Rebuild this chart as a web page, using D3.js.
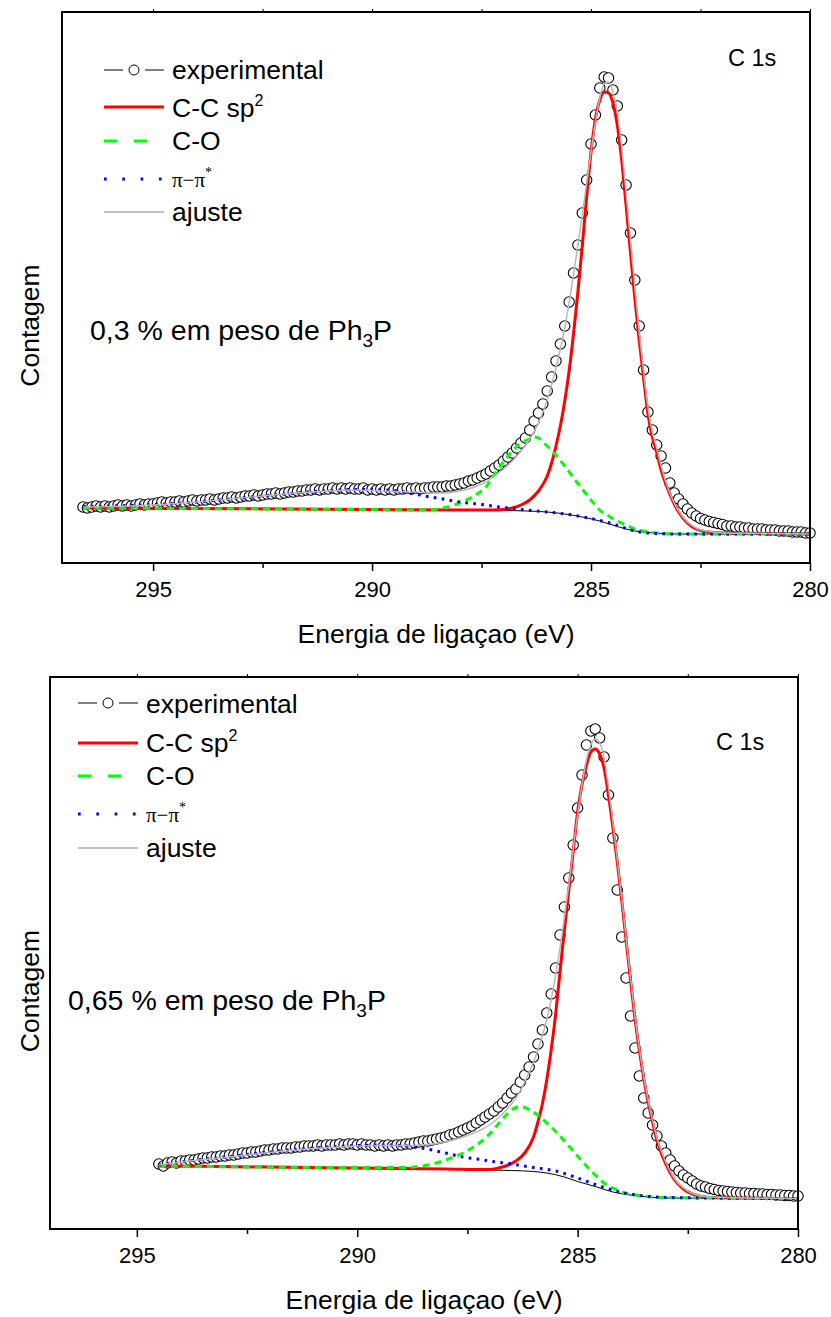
<!DOCTYPE html>
<html>
<head>
<meta charset="utf-8">
<script src="https://cdn.jsdelivr.net/npm/d3@7/dist/d3.min.js"></script>
<style>
  body { margin: 0; background: #fff; }
  text { font-family: "Liberation Sans", Arial, sans-serif; fill: #000; }
</style>
</head>
<body>
<svg id="chart" width="831" height="1317"></svg>
<script>
// ---- data (binding energy eV, counts a.u.) ----
var majorTicks = [295, 290, 285, 280];
var minorTicks = [292.5, 287.5, 282.5];
var legendLabels = ["experimental", "C-C sp", "C-O", "\u03c0\u2212\u03c0", "ajuste"];
var sampleLabels = ["0,3 % em peso de Ph", "0,65 % em peso de Ph"];
var xTitle = "Energia de liga\u00e7ao (eV)";
var yTitle = "Contagem";
var peakLabel = "C 1s";

// 0,3 % sample
var expTop = [
[296.6,560],[296.5,550],[296.4,560],[296.3,570],[296.2,560],[296.1,570],[296.0,560],[295.9,570],[295.8,580],[295.7,570],
[295.6,580],[295.5,570],[295.4,580],[295.3,590],[295.2,580],[295.1,590],[295.0,590],[294.9,600],[294.8,610],[294.7,600],
[294.6,610],[294.5,610],[294.4,620],[294.3,610],[294.2,620],[294.1,630],[294.0,620],[293.9,630],[293.8,630],[293.7,640],
[293.6,630],[293.5,640],[293.4,650],[293.3,650],[293.2,660],[293.1,650],[293.0,660],[292.9,670],[292.8,670],[292.7,680],
[292.6,670],[292.5,680],[292.4,690],[292.3,690],[292.2,700],[292.1,690],[292.0,700],[291.9,710],[291.8,710],[291.7,720],
[291.6,720],[291.5,730],[291.4,730],[291.3,740],[291.2,730],[291.1,740],[291.0,740],[290.9,750],[290.8,740],[290.7,750],
[290.6,740],[290.5,750],[290.4,740],[290.3,740],[290.2,750],[290.1,730],[290.0,740],[289.9,730],[289.8,740],[289.7,730],
[289.6,740],[289.5,730],[289.4,740],[289.3,740],[289.2,750],[289.1,740],[289.0,750],[288.9,740],[288.8,750],[288.7,750],
[288.6,760],[288.5,760],[288.4,760],[288.3,770],[288.2,770],[288.1,780],[288.0,790],[287.9,800],[287.8,820],[287.7,830],
[287.6,850],[287.5,870],[287.4,890],[287.3,920],[287.2,950],[287.1,980],[287.0,1020],[286.9,1060],[286.8,1100],[286.7,1150],
[286.6,1200],[286.5,1250],[286.4,1330],[286.3,1420],[286.2,1500],[286.1,1590],[286.0,1720],[285.9,1860],[285.8,2020],[285.7,2190],
[285.6,2370],[285.5,2610],[285.4,2900],[285.3,3180],[285.2,3500],[285.1,3830],[285.0,4190],[284.9,4480],[284.8,4750],[284.7,4860],
[284.6,4850],[284.5,4730],[284.4,4570],[284.3,4230],[284.2,3780],[284.1,3300],[284.0,2830],[283.9,2370],[283.8,1930],[283.7,1510],
[283.6,1330],[283.5,1180],[283.4,1070],[283.3,950],[283.2,800],[283.1,700],[283.0,640],[282.9,590],[282.8,540],[282.7,500],
[282.6,470],[282.5,445],[282.4,430],[282.3,415],[282.2,405],[282.1,395],[282.0,385],[281.9,370],[281.8,370],[281.7,360],
[281.6,360],[281.5,350],[281.4,350],[281.3,340],[281.2,340],[281.1,340],[281.0,330],[280.9,330],[280.8,330],[280.7,320],
[280.6,320],[280.5,320],[280.4,310],[280.3,310],[280.2,310],[280.1,300],[280.0,300]
];
var baseTop = [[296.6,550],[294,545],[291,540],[289,530],[287,525],[286,510],[285.6,490],[285.2,460],[284.8,420],
  [284.4,365],[284.0,320],[283.7,305],[283.4,295],[283.0,290],[280.0,290]];
var ccTop = [[296.6,550],[292,540],[290,535],[288,530],[287.2,530],[287.0,535],[286.8,550],[286.6,580],[286.4,630],
  [286.2,720],[286.0,870],[285.9,1000],[285.8,1170],[285.7,1370],[285.6,1620],[285.5,1920],[285.4,2290],[285.3,2710],
  [285.2,3170],[285.1,3660],[285.0,4110],[284.9,4440],[284.8,4630],[284.7,4710],[284.6,4700],[284.5,4600],[284.4,4380],
  [284.3,4030],[284.2,3580],[284.1,3110],[284.0,2650],[283.9,2230],[283.8,1850],[283.7,1490],[283.6,1260],[283.5,1110],
  [283.4,930],[283.3,800],[283.2,690],[283.1,590],[283.0,510],[282.8,400],[282.6,340],[282.3,310],[282.0,300],
  [281.0,295],[280.0,290]];
var coTop = [[296.6,550],[292,540],[290,535],[289,530],[288.6,535],[288.4,550],[288.2,570],[288.0,600],[287.8,640],
  [287.6,690],[287.4,760],[287.2,890],[287.0,1010],[286.8,1120],[286.6,1200],[286.4,1240],[286.3,1260],[286.2,1250],
  [286.0,1170],[285.8,1080],[285.6,970],[285.4,850],[285.2,740],[285.0,630],[284.8,530],[284.6,470],[284.4,420],
  [284.2,380],[284.0,340],[283.8,320],[283.5,300],[283.0,290],[280.0,290]];
var piTop = [[296.6,565],[296,570],[295,585],[294,610],[293,650],[292,690],[291,725],[290.5,735],[290,735],[289.5,725],
  [289.2,705],[289,690],[288.8,670],[288.5,650],[288.2,625],[288,610],[287.5,585],[287,555],[286.5,530],[286,510],
  [285.5,485],[285,445],[284.5,390],[284,320],[283.5,295],[283,290],[280,290]];
var fitTop = [[296.6,560],[296,565],[295,580],[294,610],[293,650],[292,690],[291,720],[290.5,730],[290,725],[289.5,715],
  [289,710],[288.5,700],[288.2,705],[288,720],[287.8,740],[287.6,770],[287.4,810],[287.2,870],[287,940],[286.8,1020],
  [286.6,1120],[286.4,1240],[286.2,1400],[286.0,1630],[285.8,1950],[285.6,2350],[285.4,2880],[285.2,3480],[285.0,4110],
  [284.9,4410],[284.8,4650],[284.7,4790],[284.6,4810],[284.5,4710],[284.4,4510],[284.3,4150],[284.2,3710],[284.1,3230],
  [284.0,2760],[283.9,2310],[283.8,1910],[283.7,1550],[283.6,1310],[283.5,1150],[283.4,970],[283.3,820],[283.2,700],
  [283.1,600],[283.0,520],[282.8,410],[282.6,350],[282.3,315],[282.0,300],[281.0,295],[280.0,290]];

// 0,65 % sample
var expBottom = [
[294.5,650],[294.4,630],[294.3,660],[294.2,670],[294.1,660],[294.0,680],[293.9,680],[293.8,690],[293.7,690],[293.6,700],
[293.5,710],[293.4,710],[293.3,720],[293.2,720],[293.1,730],[293.0,730],[292.9,740],[292.8,740],[292.7,750],[292.6,760],
[292.5,760],[292.4,770],[292.3,770],[292.2,780],[292.1,790],[292.0,790],[291.9,800],[291.8,800],[291.7,810],[291.6,810],
[291.5,810],[291.4,820],[291.3,820],[291.2,830],[291.1,830],[291.0,830],[290.9,840],[290.8,830],[290.7,840],[290.6,840],
[290.5,840],[290.4,850],[290.3,840],[290.2,850],[290.1,850],[290.0,840],[289.9,850],[289.8,840],[289.7,840],[289.6,830],
[289.5,840],[289.4,830],[289.3,840],[289.2,830],[289.1,840],[289.0,840],[288.9,850],[288.8,850],[288.7,860],[288.6,870],
[288.5,880],[288.4,880],[288.3,890],[288.2,900],[288.1,910],[288.0,920],[287.9,940],[287.8,950],[287.7,970],[287.6,990],
[287.5,1010],[287.4,1030],[287.3,1060],[287.2,1090],[287.1,1120],[287.0,1150],[286.9,1180],[286.8,1220],[286.7,1260],[286.6,1310],
[286.5,1360],[286.4,1400],[286.3,1470],[286.2,1540],[286.1,1620],[286.0,1720],[285.9,1850],[285.8,1990],[285.7,2160],[285.6,2350],
[285.5,2610],[285.4,2940],[285.3,3220],[285.2,3510],[285.1,3840],[285.0,4210],[284.9,4540],[284.8,4840],[284.7,4980],[284.6,5000],
[284.5,4910],[284.4,4720],[284.3,4340],[284.2,3910],[284.1,3390],[284.0,2920],[283.9,2510],[283.8,2130],[283.7,1810],[283.6,1530],
[283.5,1310],[283.4,1160],[283.3,1040],[283.2,930],[283.1,830],[283.0,760],[282.9,690],[282.8,630],[282.7,580],[282.6,540],
[282.5,510],[282.4,480],[282.3,450],[282.2,430],[282.1,420],[282.0,405],[281.9,395],[281.8,385],[281.7,380],[281.6,375],
[281.5,370],[281.4,365],[281.3,360],[281.2,360],[281.1,355],[281.0,355],[280.9,350],[280.8,350],[280.7,345],[280.6,345],
[280.5,340],[280.4,340],[280.3,335],[280.2,335],[280.1,330],[280.0,330]
];
var baseBottom = [[294.5,630],[292,620],[290,610],[288,600],[287,590],[286.5,585],[286,575],[285.7,560],[285.3,520],
  [285.0,475],[284.6,425],[284.2,370],[283.8,340],[283.4,320],[283.0,310],[280.0,305]];
var ccBottom = [[294.5,630],[292,620],[290,610],[288,600],[287.0,595],[286.8,610],[286.6,635],[286.4,680],[286.2,760],
  [286.0,920],[285.9,1070],[285.8,1250],[285.7,1490],[285.6,1790],[285.5,2140],[285.4,2570],[285.3,2990],[285.2,3390],
  [285.1,3770],[285.0,4170],[284.9,4440],[284.8,4640],[284.7,4770],[284.6,4800],[284.5,4750],[284.4,4610],[284.3,4340],
  [284.2,4020],[284.1,3670],[284.0,3290],[283.9,2890],[283.8,2490],[283.7,2110],[283.6,1790],[283.5,1510],[283.4,1270],
  [283.3,1070],[283.2,890],[283.1,760],[283.0,650],[282.8,490],[282.6,400],[282.4,350],[282.0,315],[280.0,305]];
var coBottom = [[294.5,630],[290,615],[289,615],[288.6,625],[288.4,640],[288.2,660],[288.0,690],[287.8,720],[287.6,760],
  [287.4,810],[287.2,870],[287.0,950],[286.8,1050],[286.6,1150],[286.4,1215],[286.3,1225],[286.2,1215],[286.0,1170],
  [285.8,1100],[285.6,1020],[285.4,930],[285.2,830],[285.0,730],[284.8,630],[284.6,540],[284.4,460],[284.2,410],
  [284.0,370],[283.6,335],[283.0,315],[280.0,305]];
var piBottom = [[294.5,640],[294,670],[293,720],[292,770],[291,810],[290,835],[289.5,840],[289,835],[288.6,815],
  [288.2,780],[288,760],[287.6,720],[287.2,695],[287,680],[286.5,650],[286,615],[285.5,580],[285,510],[284.5,430],
  [284,365],[283.5,330],[283,315],[280,305]];
var fitBottom = [[294.5,640],[294,670],[293,715],[292,765],[291,805],[290,830],[289.5,835],[289,835],[288.5,840],
  [288,870],[287.6,920],[287.2,990],[287,1040],[286.8,1110],[286.6,1200],[286.4,1310],[286.2,1470],[286.0,1670],
  [285.8,1930],[285.6,2290],[285.4,2810],[285.2,3440],[285.0,4140],[284.9,4440],[284.8,4690],[284.7,4840],[284.6,4900],
  [284.5,4860],[284.4,4710],[284.3,4420],[284.2,4070],[284.1,3690],[284.0,3310],[283.9,2910],[283.8,2510],[283.7,2130],
  [283.6,1810],[283.5,1530],[283.4,1290],[283.3,1090],[283.2,910],[283.1,780],[283.0,670],[282.8,500],[282.6,410],
  [282.4,355],[282.0,320],[280.0,305]];

// ---- layout ----
var svg = d3.select("#chart");

var panels = [
  { left: 62, right: 810, top: 12, bottom: 563, xDomain: [297.08, 280], yMax: 5510,
    exp: expTop, base: baseTop, cc: ccTop, co: coTop, pi: piTop, fit: fitTop,
    note: sampleLabels[0], noteX: 90, noteY: 340, peakX: 728, peakY: 66,
    legX: 104, legRows: [[70, 79], [107, 117], [141, 150], [179, 187], [212, 221]] },
  { left: 50, right: 798, top: 677, bottom: 1229, xDomain: [296.97, 280], yMax: 5520,
    exp: expBottom, base: baseBottom, cc: ccBottom, co: coBottom, pi: piBottom, fit: fitBottom,
    note: sampleLabels[1], noteX: 68, noteY: 1010, peakX: 716, peakY: 750,
    legX: 78, legRows: [[703, 713], [743, 752], [776, 785], [814, 822], [848, 857]] }
];

var styles = {
  base: { stroke: "#000", width: 1, dash: null },
  cc:   { stroke: "#ff0000", width: 3, dash: null },
  co:   { stroke: "#00ff00", width: 3, dash: "7,5" },
  pi:   { stroke: "#0000ff", width: 3, dash: "2.7,5.3" },
  fit:  { stroke: "#b8b8b8", width: 1.5, dash: null }
};

function drawPanel(p) {
  var g = svg.append("g");
  var x = d3.scaleLinear().domain(p.xDomain).range([p.left, p.right]);
  var y = d3.scaleLinear().domain([0, p.yMax]).range([p.bottom, p.top]);

  // experimental points (under the fitted curves)
  g.append("g").selectAll("circle")
    .data(p.exp)
    .enter().append("circle")
    .attr("cx", function(d) { return x(d[0]); })
    .attr("cy", function(d) { return y(d[1]); })
    .attr("r", 5.2)
    .attr("fill", "#fff")
    .attr("stroke", "#000")
    .attr("stroke-width", 1.1);

  var line = d3.line()
    .x(function(d) { return x(d[0]); })
    .y(function(d) { return y(d[1]); })
    .curve(d3.curveMonotoneX);

  ["base", "cc", "co", "pi", "fit"].forEach(function(k) {
    var s = styles[k];
    g.append("path")
      .datum(p[k])
      .attr("d", line)
      .attr("fill", "none")
      .attr("stroke", s.stroke)
      .attr("stroke-width", s.width)
      .attr("stroke-dasharray", s.dash);
  });

  // bottom axis
  var ax = g.append("g")
    .attr("transform", "translate(0," + p.bottom + ")")
    .call(d3.axisBottom(x).tickValues(majorTicks).tickSize(8).tickFormat(d3.format("d")));
  ax.select(".domain").remove();
  ax.selectAll("line").attr("stroke-width", 1.5);
  ax.selectAll("text").attr("y", 34).attr("dy", null)
    .style("font-size", "22px").style("font-family", "'Liberation Sans', Arial, sans-serif");

  var axm = g.append("g")
    .attr("transform", "translate(0," + p.bottom + ")")
    .call(d3.axisBottom(x).tickValues(minorTicks).tickSize(5).tickFormat(""));
  axm.select(".domain").remove();
  axm.selectAll("line").attr("stroke-width", 1.5);

  // small marks on the top edge
  var axt = g.append("g")
    .attr("transform", "translate(0," + p.top + ")")
    .call(d3.axisTop(x).tickValues(majorTicks.concat(minorTicks)).tickSize(3).tickFormat(""));
  axt.select(".domain").remove();
  axt.selectAll("line").attr("stroke-width", 1);

  // frame
  g.append("rect")
    .attr("x", p.left).attr("y", p.top)
    .attr("width", p.right - p.left).attr("height", p.bottom - p.top)
    .attr("fill", "none").attr("stroke", "#000").attr("stroke-width", 2);

  // titles
  g.append("text")
    .attr("x", (p.left + p.right) / 2).attr("y", p.bottom + 80)
    .attr("text-anchor", "middle").style("font-size", "26.5px")
    .text(xTitle);
  g.append("text")
    .attr("transform", "translate(39," + ((p.top + p.bottom) / 2 + 38) + ") rotate(-90)")
    .attr("text-anchor", "middle").style("font-size", "26.5px")
    .text(yTitle);

  g.append("text").attr("x", p.peakX).attr("y", p.peakY)
    .style("font-size", "23.5px").text(peakLabel);

  var note = g.append("text").attr("x", p.noteX).attr("y", p.noteY).style("font-size", "28.5px");
  note.append("tspan").text(p.note);
  note.append("tspan").attr("dy", 7).style("font-size", "19px").text("3");
  note.append("tspan").attr("dy", -7).text("P");

  // legend
  var lx0 = p.legX, lx1 = p.legX + 60, tx = p.legX + 68;
  var r = p.legRows;
  // experimental
  g.append("line").attr("x1", lx0).attr("x2", lx0 + 19).attr("y1", r[0][0]).attr("y2", r[0][0]).attr("stroke", "#000");
  g.append("line").attr("x1", lx0 + 41).attr("x2", lx1).attr("y1", r[0][0]).attr("y2", r[0][0]).attr("stroke", "#000");
  g.append("circle").attr("cx", lx0 + 30).attr("cy", r[0][0]).attr("r", 5)
    .attr("fill", "#fff").attr("stroke", "#000");
  // C-C, C-O, pi, fit
  var legStyles = [null, styles.cc, { stroke: "#00ff00", width: 3, dash: "13.3,16.7" },
    { stroke: "#0000ff", width: 3, dash: "2.7,15.6" }, { stroke: "#c0c0c0", width: 2, dash: null }];
  for (var i = 1; i < 5; i++) {
    g.append("line").attr("x1", lx0).attr("x2", lx1).attr("y1", r[i][0]).attr("y2", r[i][0])
      .attr("stroke", legStyles[i].stroke).attr("stroke-width", legStyles[i].width)
      .attr("stroke-dasharray", legStyles[i].dash);
  }
  var fs = "26.5px";
  g.append("text").attr("x", tx).attr("y", r[0][1]).style("font-size", fs).text(legendLabels[0]);
  var t1 = g.append("text").attr("x", tx).attr("y", r[1][1]).style("font-size", fs);
  t1.append("tspan").text(legendLabels[1]);
  t1.append("tspan").attr("dy", -11).style("font-size", "16px").text("2");
  g.append("text").attr("x", tx).attr("y", r[2][1]).style("font-size", fs).text(legendLabels[2]);
  var t3 = g.append("text").attr("x", tx).attr("y", r[3][1])
    .style("font-size", "21px").style("font-family", "'Liberation Serif', serif");
  t3.append("tspan").text(legendLabels[3]);
  t3.append("tspan").attr("dy", -10).style("font-size", "14px").text("*");
  g.append("text").attr("x", tx).attr("y", r[4][1]).style("font-size", fs).text(legendLabels[4]);
}

panels.forEach(drawPanel);
</script>
</body>
</html>
